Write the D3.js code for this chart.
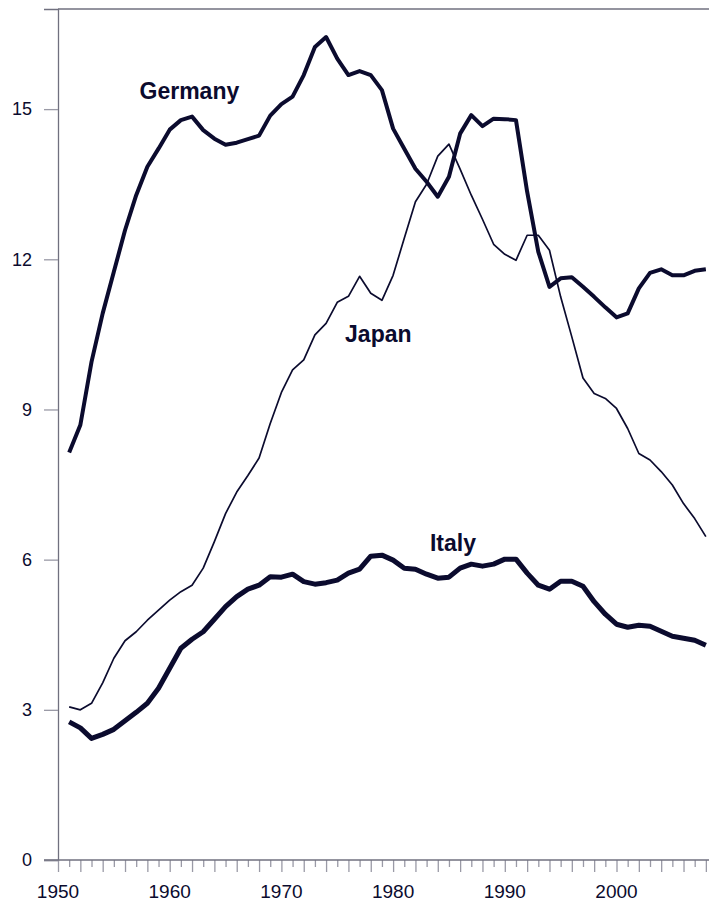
<!DOCTYPE html>
<html>
<head>
<meta charset="utf-8">
<script src="https://cdn.jsdelivr.net/npm/d3@7"></script>
<style>
  html, body { margin: 0; padding: 0; background: #ffffff; }
  svg { display: block; }
</style>
</head>
<body>
<div id="chart"></div>
<script>
const years = d3.range(1951, 2009);

const germany = [8.14, 8.69, 9.95, 10.92, 11.75, 12.58, 13.28, 13.85, 14.21, 14.59,
  14.78, 14.85, 14.58, 14.41, 14.29, 14.33, 14.40, 14.47, 14.87, 15.10,
  15.25, 15.68, 16.24, 16.44, 16.01, 15.68, 15.76, 15.68, 15.38, 14.61,
  14.21, 13.81, 13.55, 13.25, 13.65, 14.51, 14.88, 14.66, 14.81, 14.80,
  14.78, 13.35, 12.15, 11.45, 11.62, 11.64, 11.45, 11.25, 11.04, 10.84,
  10.92, 11.42, 11.73, 11.80, 11.68, 11.68, 11.77, 11.80];

const japan = [3.06, 3.00, 3.13, 3.54, 4.03, 4.38, 4.56, 4.79, 4.99, 5.19,
  5.36, 5.49, 5.83, 6.36, 6.92, 7.35, 7.68, 8.03, 8.72, 9.34,
  9.79, 9.99, 10.49, 10.72, 11.14, 11.26, 11.66, 11.32, 11.18, 11.68,
  12.42, 13.15, 13.50, 14.06, 14.30, 13.80, 13.28, 12.80, 12.30, 12.10,
  11.98, 12.48, 12.48, 12.18, 11.25, 10.45, 9.63, 9.32, 9.22, 9.02,
  8.62, 8.12, 7.99, 7.76, 7.49, 7.12, 6.82, 6.46];

const italy = [2.76, 2.64, 2.43, 2.51, 2.61, 2.78, 2.95, 3.13, 3.43, 3.83,
  4.23, 4.41, 4.56, 4.81, 5.06, 5.26, 5.41, 5.49, 5.66, 5.65,
  5.71, 5.56, 5.51, 5.54, 5.59, 5.73, 5.81, 6.07, 6.09, 5.99,
  5.83, 5.81, 5.71, 5.63, 5.65, 5.83, 5.91, 5.87, 5.91, 6.01,
  6.01, 5.73, 5.49, 5.41, 5.57, 5.57, 5.47, 5.16, 4.91, 4.71,
  4.65, 4.69, 4.67, 4.57, 4.47, 4.43, 4.39, 4.29];

const yTicks = [0, 3, 6, 9, 12, 15];
const xLabelYears = [1950, 1960, 1970, 1980, 1990, 2000];

const seriesLabels = [
  { name: "Germany", year: 1957.3, value: 15.2 },
  { name: "Japan", year: 1975.7, value: 10.35 },
  { name: "Italy", year: 1983.3, value: 6.18 }
];

const W = 709, H = 906;
const ink = "#0b0b2e";
const axisCol = "#70707f";
const tickCol = "#9a9aa6";

const svg = d3.select("#chart").append("svg")
  .attr("width", W).attr("height", H)
  .style("font-family", "'Liberation Sans', Arial, sans-serif");

const x = d3.scaleLinear().domain([1950, 2010]).range([58, 58 + 60 * 11.17]);
const y = d3.scaleLinear().domain([0, 17]).range([860, 9]);

// top border
svg.append("line")
  .attr("x1", x(1950)).attr("x2", W)
  .attr("y1", y(17)).attr("y2", y(17))
  .attr("stroke", axisCol).attr("stroke-width", 1.3);

// y axis
const yAxis = d3.axisLeft(y).tickValues(yTicks).tickSize(14).tickPadding(12)
  .tickFormat(d3.format("d"));
const gy = svg.append("g").attr("transform", `translate(${x(1950)},0)`).call(yAxis);
gy.select(".domain").attr("stroke", axisCol).attr("stroke-width", 1.3);
gy.selectAll(".tick line").attr("stroke", tickCol).attr("stroke-width", 1.3);
gy.selectAll(".tick text").attr("fill", ink).style("font-size", "18px")
  .style("font-family", "'Liberation Sans', Arial, sans-serif");

// x axis: minor ticks every year, taller on even years
const tickYears = d3.range(1950, 2010);
const xAxisMinor = d3.axisBottom(x).tickValues(tickYears.filter(d => d % 2 === 1)).tickSize(7).tickFormat("");
const xAxisMajor = d3.axisBottom(x).tickValues(tickYears.filter(d => d % 2 === 0)).tickSize(12).tickFormat("");
const gxm = svg.append("g").attr("transform", `translate(0,${y(0)})`).call(xAxisMinor);
gxm.select(".domain").remove();
gxm.selectAll(".tick line").attr("stroke", tickCol).attr("stroke-width", 1.3);
const gxM = svg.append("g").attr("transform", `translate(0,${y(0)})`).call(xAxisMajor);
gxM.select(".domain").remove();
gxM.selectAll(".tick line").attr("stroke", tickCol).attr("stroke-width", 1.3);

svg.append("line")
  .attr("x1", 44).attr("x2", W)
  .attr("y1", y(0)).attr("y2", y(0))
  .attr("stroke", axisCol).attr("stroke-width", 1.3);

svg.append("g").selectAll("text").data(xLabelYears).join("text")
  .attr("x", d => x(d)).attr("y", 898)
  .attr("text-anchor", "middle")
  .attr("fill", ink)
  .style("font-size", "19px")
  .text(d => d);

// lines
const line = d3.line().x((d, i) => x(years[i])).y(d => y(d));

svg.append("path").datum(japan).attr("d", line)
  .attr("fill", "none").attr("stroke", ink).attr("stroke-width", 1.7)
  .attr("stroke-linejoin", "round");
svg.append("path").datum(germany).attr("d", line)
  .attr("fill", "none").attr("stroke", ink).attr("stroke-width", 4)
  .attr("stroke-linejoin", "round");
svg.append("path").datum(italy).attr("d", line)
  .attr("fill", "none").attr("stroke", ink).attr("stroke-width", 5)
  .attr("stroke-linejoin", "round");

// labels
svg.append("g").selectAll("text").data(seriesLabels).join("text")
  .attr("x", d => x(d.year)).attr("y", d => y(d.value))
  .attr("fill", ink)
  .style("font-size", "23px").style("font-weight", "bold")
  .text(d => d.name);
</script>
</body>
</html>
